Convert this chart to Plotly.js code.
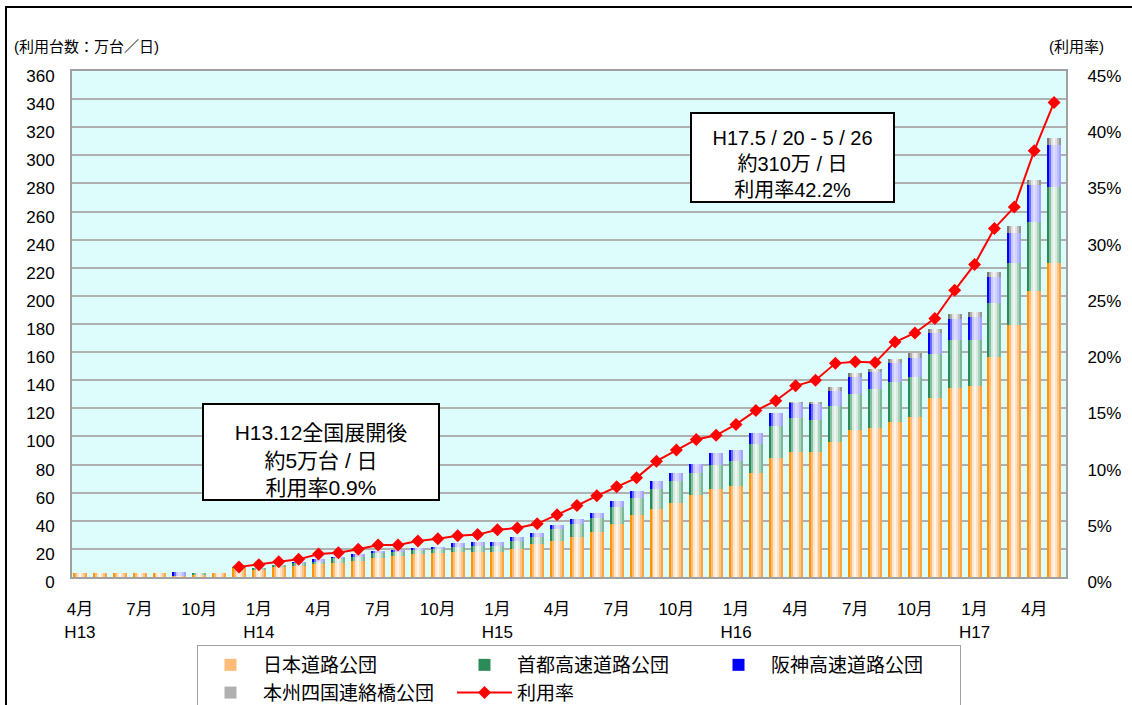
<!DOCTYPE html>
<html><head><meta charset="utf-8">
<script src="https://cdn.plot.ly/plotly-3.0.1.min.js"></script>
<style>
body{margin:0;background:#fff;}
#chart{position:absolute;left:0;top:0;width:1132px;height:705px;}
#frame{position:absolute;left:5px;top:6px;width:1140px;height:720px;border-left:2px solid #000;border-top:2px solid #000;pointer-events:none;}
</style>
</head><body>
<div id="chart"></div><div id="frame"></div>
<script>
// Months H13.4 .. H17.5
const months = [
 'H13.4','H13.5','H13.6','H13.7','H13.8','H13.9','H13.10','H13.11','H13.12',
 'H14.1','H14.2','H14.3','H14.4','H14.5','H14.6','H14.7','H14.8','H14.9','H14.10','H14.11','H14.12',
 'H15.1','H15.2','H15.3','H15.4','H15.5','H15.6','H15.7','H15.8','H15.9','H15.10','H15.11','H15.12',
 'H16.1','H16.2','H16.3','H16.4','H16.5','H16.6','H16.7','H16.8','H16.9','H16.10','H16.11','H16.12',
 'H17.1','H17.2','H17.3','H17.4','H17.5'
];
// 万台/日
const jhValues = [2.5,2.5,2.5,2.5,2.5,0.8,1.2,3.2,6.2,
 5.0,7.2,8.0,9.2,10.2,11.6,13.7,15.2,16.1,17.3,18.0,18.0,
 18.0,19.9,23.5,25.6,28.4,32.2,37.9,44.1,48.4,52.6,58.3,62.6,
 64.7,74.0,84.6,88.9,88.9,96.0,104.6,106.0,110.2,113.6,127.3,134.6,
 136.1,156.5,179.2,203.4,223.1];
const shutokoValues = [0,0,0,0,0,0,2.0,0,1.0,
 1.5,1.3,1.7,1.7,3.1,2.9,3.1,2.3,3.1,2.6,3.6,4.0,
 4.0,5.7,4.9,8.5,9.3,10.0,11.9,12.3,14.2,15.7,15.7,17.1,
 17.8,20.6,22.8,24.1,22.8,25.6,25.6,27.5,28.5,28.4,31.3,34.0,
 32.5,38.6,43.9,49.1,54.3];
const hanshinValues = [0,0,0,0,0,2.5,0,0,0,
 0,0,1.2,1.9,1.1,1.9,1.7,1.7,1.7,1.7,2.4,2.9,
 2.9,2.8,2.9,2.9,3.6,3.3,4.2,4.8,5.7,5.7,6.4,8.5,
 7.8,7.8,9.2,10.5,11.7,10.7,12.0,12.5,13.7,14.0,14.7,14.9,
 16.3,18.5,21.8,26.3,30.1];
const honshiValues = [0,0,0,0,0,0,0,0,0,
 0,0,0,0,0,0,0,0,0,0,0,0,
 0,0,0,0,0,0,0,0,0,0,0,0,
 0,0,0,1.0,1.1,2.6,2.7,1.7,2.4,3.1,2.9,3.3,
 3.6,3.3,4.7,3.6,4.7];
// 利用率 (%)
const usageRate = [null,null,null,null,null,null,null,null,0.9,
 1.1,1.36,1.57,2.05,2.15,2.46,2.84,2.84,3.2,3.4,3.67,3.77,
 4.2,4.36,4.73,5.53,6.35,7.22,8.02,8.82,10.3,11.3,12.23,12.6,
 13.57,14.8,15.68,17.0,17.5,19.0,19.15,19.07,20.9,21.7,23.0,25.5,
 27.8,31.0,32.9,37.9,42.2];
// x tick labels
const tickIdx = [0,3,6,9,12,15,18,21,24,27,30,33,36,39,42,45,48];
const tickLabels = ['4月<br>H13','7月','10月','1月<br>H14','4月','7月','10月','1月<br>H15','4月','7月','10月','1月<br>H16','4月','7月','10月','1月<br>H17','4月'];

const FONT = 'Liberation Sans, Arial, "Noto Sans CJK JP", sans-serif';
const series = [
 {name:'日本道路公団', vals:jhValues, colors:['#ff9600','#ffbb77','#ffe6cc','#fff5ea','#ffe2c4','#ffc48a','#ffa43f'], leg:1},
 {name:'首都高速道路公団', vals:shutokoValues, colors:['#2a8a58','#86bf9f','#d6eadf','#eef6f1','#d8ebe0','#aad1bc','#7cb796'], leg:0},
 {name:'阪神高速道路公団', vals:hanshinValues, colors:['#0000ff','#6a6aff','#c6c6ff','#dcdcff','#d2d2ff','#bcbcff','#a2a2ff'], leg:0},
 {name:'本州四国連絡橋公団', vals:honshiValues, colors:['#7a7a7a','#b0b0b0','#e0e0e0','#f4f4f4','#e2e2e2','#c0c0c0','#969696'], leg:1}
];
const traces = [];
let base = months.map(()=>0);
series.forEach(s=>{
  const b = base.slice();
  s.colors.forEach((c,k)=>{
    traces.push({type:'bar', x:months, y:s.vals, base:b, width:0.1, offset:-0.35+k*0.1,
      marker:{color:c, line:{width:0}}, name:s.name, legendgroup:s.name,
      showlegend:k===s.leg, hoverinfo:'skip'});
  });
  base = base.map((v,i)=>v+s.vals[i]);
});
traces.push({type:'scatter', mode:'lines+markers', x:months, y:usageRate, yaxis:'y2',
  name:'利用率', line:{color:'#ff0000', width:2}, marker:{symbol:'diamond', size:10, color:'#ff0000'},
  hoverinfo:'skip'});

const L=72, R=66, T=71, B=128, W=1132, H=705;
const pw=W-L-R, ph=H-T-B;
const px=(x)=>(x-L)/pw, py=(y)=>(H-B-y)/ph;

const layout = {
  width:W, height:H, margin:{l:L,r:R,t:T,b:B},
  paper_bgcolor:'#ffffff', plot_bgcolor:'#ddfdfd',
  barmode:'overlay', bargap:0,
  font:{family:FONT, size:17, color:'#000'},
  xaxis:{type:'category', range:[-0.4,49.6], tickmode:'array',
    tickvals:tickIdx.map(i=>months[i]), ticktext:tickLabels, tickangle:0,
    showgrid:false, showline:true, linecolor:'#a0a0a0', linewidth:2, mirror:true,
    ticks:'outside', ticklen:16, tickcolor:'rgba(0,0,0,0)', tickfont:{size:17}, fixedrange:true},
  yaxis:{range:[0,360], tick0:0, dtick:20, showgrid:true, gridcolor:'#b0b0b0', gridwidth:2,
    showline:true, linecolor:'#a0a0a0', linewidth:2, zeroline:false,
    ticks:'outside', ticklen:12, tickcolor:'rgba(0,0,0,0)', tickfont:{size:17}, ticklabelshift:5, fixedrange:true},
  yaxis2:{overlaying:'y', side:'right', range:[0,45], tick0:0, dtick:5, ticksuffix:'%',
    showgrid:false, showline:true, linecolor:'#a0a0a0', linewidth:2, zeroline:false,
    ticks:'outside', ticklen:16, tickcolor:'rgba(0,0,0,0)', tickfont:{size:17}, ticklabelshift:5, fixedrange:true},
  legend:{orientation:'h', xref:'container', yref:'container', x:197/W, y:1-645/H,
    xanchor:'left', yanchor:'top', bordercolor:'#a0a0a0', borderwidth:1, bgcolor:'#ffffff',
    font:{size:19}, itemwidth:55, entrywidth:184, entrywidthmode:'pixels', traceorder:'normal'},
  annotations:[
    {text:'(利用台数：万台／日)', xref:'paper', yref:'paper', x:px(12), y:py(46), xanchor:'left', yanchor:'middle', showarrow:false, font:{size:15}},
    {text:'(利用率)', xref:'paper', yref:'paper', x:px(1106), y:py(46), xanchor:'right', yanchor:'middle', showarrow:false, font:{size:15}},
    {text:'H13.12全国展開後<br>約5万台 / 日<br>利用率0.9%', xref:'paper', yref:'paper', x:px(321), y:py(452),
     xanchor:'center', yanchor:'middle', showarrow:false, width:234, height:94, borderpad:0,
     bordercolor:'#000', borderwidth:2, bgcolor:'#ffffff', valign:'bottom', align:'center', font:{size:21}},
    {text:'H17.5 / 20 - 5 / 26<br>約310万 / 日<br>利用率42.2%', xref:'paper', yref:'paper', x:px(792.5), y:py(157.5),
     xanchor:'center', yanchor:'middle', showarrow:false, width:201, height:87, borderpad:0,
     bordercolor:'#000', borderwidth:2, bgcolor:'#ffffff', valign:'bottom', align:'center', font:{size:20}}
  ]
};
Plotly.newPlot('chart', traces, layout, {displayModeBar:false, staticPlot:true});
</script>
</body></html>
